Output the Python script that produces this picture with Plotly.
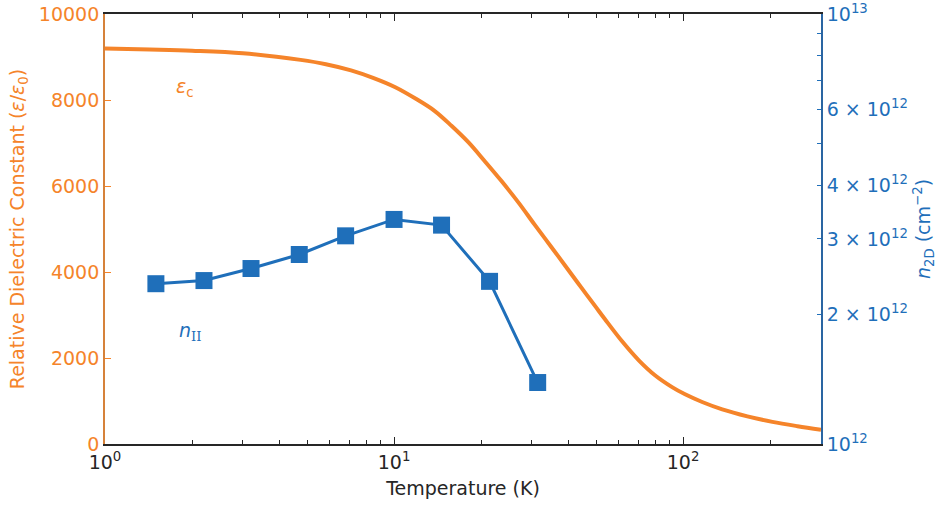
import plotly.graph_objects as go

# Dielectric constant curve (left axis)
temp_eps = [1, 1.43, 2, 3, 4.75, 5.81, 7.1, 8.46, 10.1, 11.9, 13.8, 15.8, 18.1, 20.5, 23.5,
            27, 30.6, 35.1, 40.2, 44.6, 49.5, 53.6, 61.4, 70.4, 79.9, 91.6, 101.6, 116.4,
            136.6, 166.9, 203.7, 248.8, 300]
eps_c = [9200, 9176, 9148, 9088, 8933, 8833, 8689, 8515, 8297, 8028, 7749, 7401, 7014, 6594,
         6121, 5608, 5107, 4571, 4035, 3624, 3218, 2907, 2394, 1940, 1599, 1323, 1155, 977,
         805, 643, 515, 415, 332]

# Carrier density points (right axis)
temp_n = [1.5, 2.2, 3.2, 4.7, 6.8, 10, 14.6, 21.4, 31.4]
n_2d = [2.36e12, 2.40e12, 2.56e12, 2.76e12, 3.05e12, 3.33e12, 3.23e12, 2.39e12, 1.39e12]

# Axis ticks
eps_ticks = [0, 2000, 4000, 6000, 8000, 10000]
n_ticks = [1e12, 2e12, 3e12, 4e12, 6e12, 1e13]
n_tick_text = ["10<sup>12</sup>", "2 × 10<sup>12</sup>", "3 × 10<sup>12</sup>",
               "4 × 10<sup>12</sup>", "6 × 10<sup>12</sup>", "10<sup>13</sup>"]
n_minor = [5e12, 7e12, 8e12, 9e12]
temp_ticks = [1, 10, 100]
temp_tick_text = ["10<sup>0</sup>", "10<sup>1</sup>", "10<sup>2</sup>"]
temp_minor = [v * d for d in (1, 10, 100) for v in range(2, 10) if v * d <= 300]

ORANGE = "#f5842a"
BLUE = "#1f6fba"
DARK = "#262626"
FONT = "DejaVu Sans"
FS = 19

fig = go.Figure()
fig.add_trace(go.Scatter(
    x=temp_eps, y=eps_c, mode="lines",
    line=dict(color=ORANGE, width=4, shape="spline", smoothing=1.0),
    yaxis="y", showlegend=False))
fig.add_trace(go.Scatter(
    x=temp_n, y=n_2d, mode="lines+markers",
    line=dict(color=BLUE, width=3),
    marker=dict(symbol="square", size=17, color=BLUE),
    yaxis="y2", showlegend=False))

fig.update_layout(
    width=937, height=508,
    margin=dict(l=105, r=116, t=14, b=64),
    paper_bgcolor="white", plot_bgcolor="white",
    font=dict(family=FONT, size=FS, color=DARK),
    xaxis=dict(
        type="log", range=[0, 2.4771], automargin=False,
        tickmode="array", tickvals=temp_ticks, ticktext=temp_tick_text,
        ticks="inside", ticklen=7, tickwidth=1.3, tickcolor=DARK,
        minor=dict(tickmode="array", tickvals=temp_minor, ticks="inside", ticklen=4,
                   tickwidth=1, tickcolor=DARK),
        showline=True, linecolor=DARK, linewidth=1.6, mirror="ticks",
        showgrid=False, zeroline=False,
        tickfont=dict(size=FS, color=DARK),
        title=dict(text="Temperature (K)", font=dict(size=FS, color=DARK), standoff=10),
    ),
    yaxis=dict(
        range=[0, 10000], automargin=False,
        tickmode="array", tickvals=eps_ticks, ticktext=[str(v) for v in eps_ticks],
        ticks="inside", ticklen=6, tickwidth=1.3, tickcolor=ORANGE,
        showline=True, linecolor="#d6823a", linewidth=1.8,
        showgrid=False, zeroline=False,
        tickfont=dict(size=FS, color=ORANGE),
        title=dict(text="Relative Dielectric Constant (<i>ε</i>/<i>ε</i><sub>0</sub>)",
                   font=dict(size=FS, color=ORANGE), standoff=9),
    ),
    yaxis2=dict(
        type="log", range=[12, 13.0004], overlaying="y", side="right", automargin=False,
        tickmode="array", tickvals=n_ticks, ticktext=n_tick_text,
        ticklabeloverflow="allow",
        ticks="inside", ticklen=4, tickwidth=1.3, tickcolor=BLUE,
        minor=dict(tickmode="array", tickvals=n_minor, ticks="inside",
                   ticklen=4, tickwidth=1, tickcolor=BLUE),
        showline=True, linecolor="#2a65a2", linewidth=1.8,
        showgrid=False, zeroline=False,
        tickfont=dict(size=FS, color=BLUE),
        title=dict(text="<i>n</i><sub>2D</sub> (cm<sup>−2</sup>)",
                   font=dict(size=FS, color=BLUE), standoff=10),
    ),
    annotations=[
        dict(x=0.278, y=8300, xref="x", yref="y", text="<i>ε</i><sub>c</sub>",
             showarrow=False, font=dict(size=FS, color=ORANGE)),
        dict(x=0.295, y=2620, xref="x", yref="y",
             text="<i>n</i><sub><span style='font-family:DejaVu Serif'>II</span></sub>",
             showarrow=False, font=dict(size=FS, color=BLUE)),
    ],
)

fig.write_html("out.html")
